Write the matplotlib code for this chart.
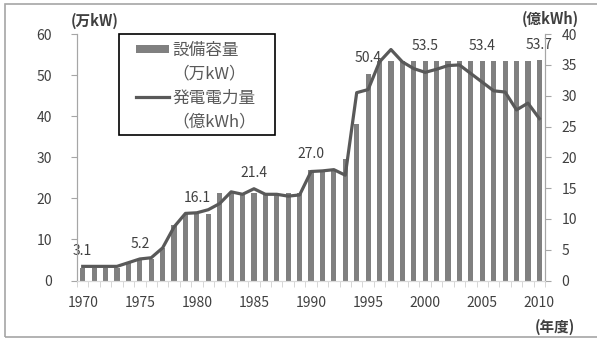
import matplotlib
matplotlib.use('Agg')
import matplotlib.pyplot as plt
from matplotlib.patches import Patch, Rectangle
from matplotlib.lines import Line2D

plt.rcParams['font.family'] = ['Noto Sans CJK JP', 'DejaVu Sans']

# Fiscal years
years = list(range(1970, 2011))

# Installed capacity (万kW), left axis
capacity = [3.1, 3.1, 3.1, 3.1, 4.2, 5.2, 5.2, 8.0, 13.5, 16.1,
            16.1, 16.1, 21.4, 21.4, 21.4, 21.4, 21.4, 21.4, 21.4, 21.4,
            27.0, 27.0, 27.0, 29.7, 38.0, 50.4, 53.5, 53.5, 53.5, 53.5,
            53.5, 53.5, 53.5, 53.5, 53.4, 53.4, 53.4, 53.4, 53.4, 53.4,
            53.7]

# Generated energy (億kWh), right axis
generation = [2.3, 2.3, 2.3, 2.3, 2.9, 3.5, 3.7, 5.3, 8.7, 10.9,
              11.0, 11.5, 12.5, 14.4, 14.0, 14.9, 14.0, 14.0, 13.7, 13.9,
              17.7, 17.8, 18.0, 17.1, 30.5, 31.0, 35.5, 37.5, 35.5, 34.4,
              33.8, 34.3, 34.9, 35.0, 33.6, 32.2, 30.8, 30.6, 27.7, 28.8,
              26.3]

# Years whose bar value is written above the bar
label_years = [1970, 1975, 1980, 1985, 1990, 1995, 2000, 2005, 2010]

xtick_years = [1970, 1975, 1980, 1985, 1990, 1995, 2000, 2005, 2010]

BAR_COLOR = '#808080'
LINE_COLOR = '#595959'
TEXT_COLOR = '#404040'
AXIS_COLOR = '#a6a6a6'

W, H = 597, 338

fig = plt.figure(figsize=(W / 100, H / 100), dpi=100)
ax = fig.add_axes([0.129, 0.170, 0.784, 0.729])
ax2 = ax.twinx()

ax.bar(years, capacity, width=0.45, color=BAR_COLOR, zorder=2)
ax2.plot(years, generation, color=LINE_COLOR, linewidth=2.3, zorder=3,
         solid_joinstyle='round')

# value labels above whichever is higher: bar top or line
for y in label_years:
    i = years.index(y)
    v = capacity[i]
    top = max(v, generation[i] * 60 / 40)
    ax.annotate('%.1f' % v, (y, top), xytext=(0, 11),
                textcoords='offset points', ha='center', va='center',
                fontsize=10, color=TEXT_COLOR, zorder=5)

ax.set_xlim(1969.5, 2010.5)
ax.set_ylim(0, 60)
ax2.set_ylim(0, 40)
ax.set_yticks(range(0, 61, 10))
ax2.set_yticks(range(0, 41, 5))
ax.set_xticks(xtick_years)
ax.set_xticks([y + 0.5 for y in range(1969, 2011)], minor=True)

ax.tick_params(axis='y', colors=AXIS_COLOR, labelcolor=TEXT_COLOR,
               length=4, pad=14, labelsize=10)
ax2.tick_params(axis='y', colors=AXIS_COLOR, labelcolor=TEXT_COLOR,
                length=4, pad=8, labelsize=10)
ax.tick_params(axis='x', which='major', length=0, pad=11,
               labelcolor=TEXT_COLOR, labelsize=10)
ax.tick_params(axis='x', which='minor', length=4, colors='#d0d0d0')

for a in (ax, ax2):
    a.spines['top'].set_visible(False)
    a.spines['left'].set_color(AXIS_COLOR)
    a.spines['right'].set_color(AXIS_COLOR)
    a.spines['bottom'].set_color('#d9d9d9')

# unit labels
fig.text(71 / W, 1 - 21 / H, '(万kW)', fontsize=10.5, fontweight='bold',
         color=TEXT_COLOR, va='center', ha='left')
fig.text(522 / W, 1 - 19 / H, '(億kWh)', fontsize=10.5, fontweight='bold',
         color=TEXT_COLOR, va='center', ha='left')
fig.text(535 / W, 1 - 327 / H, '(年度)', fontsize=10.5, fontweight='bold',
         color=TEXT_COLOR, va='center', ha='left')

# legend box drawn separately so its size can be set freely
box = Rectangle((119 / W, 1 - 135 / H), 156 / W, 101 / H,
                transform=fig.transFigure, facecolor='white',
                edgecolor='black', linewidth=1.2, zorder=9, clip_on=False)
ax2.add_patch(box)

# the unit line of each entry sits under its name with no handle
blank = Patch(visible=False)
handles = [Patch(facecolor=BAR_COLOR, edgecolor='none'), blank,
           Line2D([0], [0], color=LINE_COLOR, linewidth=2.3), blank]
labels = ['設備容量', '（万kW）', '発電電力量', '（億kWh）']
leg = ax2.legend(handles, labels, loc='upper left',
                 bbox_to_anchor=(136 / W, 1 - 42 / H),
                 bbox_transform=fig.transFigure, borderaxespad=0,
                 frameon=False, prop={'size': 12}, labelcolor='#595959',
                 handlelength=2.0, handleheight=0.35, handletextpad=0.2,
                 labelspacing=0.4, borderpad=0)
leg.set_zorder(10)

# outer frame
fig.patches.append(Rectangle((5 / W, 0.003), 600 / W, 1 - 5 / H,
                             transform=fig.transFigure, fill=False,
                             edgecolor='#a6a6a6', linewidth=1.2))

fig.savefig('out.png', dpi=100)
